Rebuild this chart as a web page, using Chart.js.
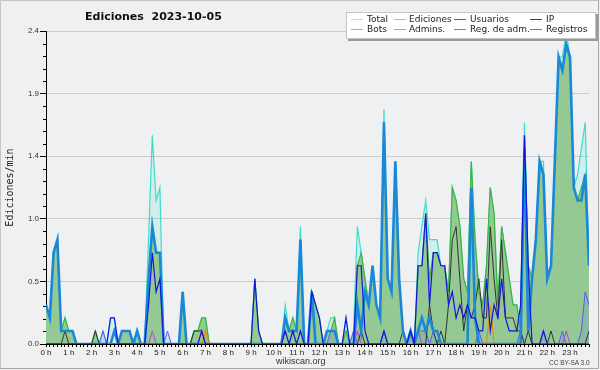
<!DOCTYPE html>
<html><head><meta charset="utf-8">
<script src="https://cdn.jsdelivr.net/npm/chart.js@4.4.1/dist/chart.umd.min.js"></script>
<style>
html,body{margin:0;padding:0;background:#f0f0f0;}
#wrap{position:relative;width:600px;height:370px;overflow:hidden;}
canvas{position:absolute;left:0;top:0;}
.t{position:absolute;white-space:nowrap;color:#111;}
#title{left:85px;top:9px;font:bold 11px 'DejaVu Sans';line-height:16px;}
#legend{position:absolute;left:346px;top:12px;width:248px;height:25px;background:#fff;border:1px solid #c4c4c4;box-shadow:2px 2px 0 #9a9a9a;}
.li{position:absolute;font:9px 'DejaVu Sans';line-height:11px;color:#222;white-space:nowrap;}
.sw{position:absolute;height:1px;width:12px;}
#site{left:276px;top:355px;font:9px 'Liberation Sans';line-height:12px;color:#333;}
#cc{left:549px;top:358px;font:6.5px 'Liberation Sans';line-height:9px;color:#444;}
</style>
</head><body>
<div id="wrap">
<canvas id="c" width="600" height="370"></canvas>
<div class="t" id="title">Ediciones&nbsp;&nbsp;2023-10-05</div>
<div id="legend"></div>
<div class="t" id="site">wikiscan.org</div>
<div class="t" id="cc">CC BY-SA 3.0</div>
</div>
<script>
// ---- data (10-minute steps, edits per minute) ----
const hourLabels = ['0 h','1 h','2 h','3 h','4 h','5 h','6 h','7 h','8 h','9 h','10 h','11 h','12 h','13 h','14 h','15 h','16 h','17 h','18 h','19 h','20 h','21 h','22 h','23 h'];
const yTickValues = [0, 0.48, 0.96, 1.44, 1.92, 2.4];
const yTickLabels = ['0.0','0.5','1.0','1.4','1.9','2.4'];
const seriesNames = ['Total','Ediciones','Usuarios','IP','Bots','Admins.','Reg. de adm.','Registros'];

const total = [
0.3,0.2,0.7,0.8,0.1,0.2, 0.1,0.1,0,0,0,0, 0,0.1,0,0.1,0,0.2, 0.2,0,0.1,0.1,0.1,0,
0.1,0,0,0.8,1.6,1.1, 1.2,0,0,0,0,0, 0.4,0,0,0.1,0.1,0.2, 0.2,0,0,0,0,0,
0,0,0,0,0,0, 0,0.5,0.1,0,0,0, 0,0,0,0.3,0.1,0.2, 0.1,0.9,0,0,0.4,0.3,
0.2,0,0.1,0.2,0.2,0, 0,0.2,0,0.1,0.9,0.7, 0.5,0.3,0.6,0.3,0.2,1.8, 0.5,0.4,1.4,0.5,0.1,0,
0.1,0,0.7,0.9,1.1,0.8, 0.8,0.8,0.6,0.6,0.4,1.2, 1.1,0.9,0.5,0.4,1.4,0.8, 0.4,0.3,0.6,1.2,1.0,0.3,
0.9,0.7,0.5,0.3,0.3,0.1, 1.7,0.6,0.5,0.8,1.4,1.4, 0.5,0.6,1.4,2.2,2.2,2.4, 2.2,1.2,1.3,1.5,1.7,0.6];
const ediciones = [
0.3,0.2,0.7,0.8,0.1,0.2, 0.1,0.1,0,0,0,0, 0,0.1,0,0,0,0, 0,0,0.1,0.1,0.1,0,
0.1,0,0,0.5,0.9,0.7, 0.7,0,0,0,0,0, 0.4,0,0,0.1,0.1,0.2, 0.2,0,0,0,0,0,
0,0,0,0,0,0, 0,0.5,0.1,0,0,0, 0,0,0,0.2,0.1,0.2, 0.1,0.8,0,0,0.4,0.3,
0.2,0,0.1,0.1,0.2,0, 0,0.1,0,0,0.6,0.7, 0.5,0.3,0.6,0.3,0.2,1.7, 0.5,0.4,1.4,0.5,0.1,0,
0.1,0,0.6,0.6,1.0,0.5, 0.7,0.7,0.6,0.6,0.4,1.2, 1.1,0.9,0.5,0.4,1.4,0.8, 0.4,0.3,0.6,1.2,1.0,0.3,
0.9,0.7,0.5,0.3,0.3,0.1, 1.6,0.6,0.5,0.8,1.4,1.3, 0.5,0.6,1.4,2.2,2.1,2.3, 2.2,1.2,1.1,1.2,1.3,0.6];
const usuarios = [
0,0,0,0,0,0, 0,0,0,0,0,0, 0,0,0,0,0,0.2, 0.2,0,0,0,0,0,
0,0,0,0.3,0.7,0.4, 0.5,0,0,0,0,0, 0,0,0,0,0,0.1, 0,0,0,0,0,0,
0,0,0,0,0,0, 0,0.5,0.1,0,0,0, 0,0,0,0.1,0,0.1, 0,0.1,0,0,0.4,0.3,
0.2,0,0,0,0,0, 0,0.2,0,0,0.6,0.6, 0.1,0,0,0,0,0.1, 0,0,0,0,0,0,
0.1,0,0.6,0.6,1.0,0.3, 0.7,0.7,0.6,0.6,0.3,0.4, 0.2,0.3,0.2,0.3,0.2,0.2, 0.1,0.1,0.5,0.1,0.3,0.2,
0.5,0.2,0.1,0.1,0.1,0.3, 1.6,0.6,0,0,0,0.1, 0,0,0,0,0,0, 0,0,0,0,0,0];
const ip = [
0,0,0,0,0,0.1, 0,0,0,0,0,0, 0,0.1,0,0,0,0, 0,0,0,0,0,0,
0,0,0,0,0,0, 0,0,0,0,0,0, 0,0,0,0.1,0.1,0.1, 0,0,0,0,0,0,
0,0,0,0,0,0, 0,0,0,0,0,0, 0,0,0,0,0,0, 0,0,0,0,0,0,
0,0,0,0,0,0, 0,0,0,0,0,0.1, 0,0,0,0,0,0, 0,0,0,0,0.1,0,
0.1,0,0,0,0,0.3, 0.1,0,0.1,0,0.3,0.8, 0.9,0.5,0.1,0.3,0.2,0.3, 0.5,0.2,0.2,0.9,0.5,0.2,
0.8,0.2,0.2,0.2,0.1,0.1, 0,0.1,0,0,0,0, 0,0.1,0,0,0,0, 0,0,0,0,0,0.1];
const bots = [
0,0,0,0,0,0, 0,0,0,0,0,0, 0,0,0,0,0,0, 0,0,0,0,0,0,
0,0,0,0,0,0, 0,0,0,0,0,0, 0,0,0,0,0,0, 0.1,0,0,0,0,0,
0,0,0,0,0,0, 0,0,0,0,0,0, 0,0,0,0,0,0, 0,0,0,0,0,0,
0,0,0,0,0,0, 0,0,0,0,0,0, 0,0,0,0,0,0, 0,0,0,0,0,0,
0,0,0,0,0,0, 0,0,0,0,0,0, 0,0,0,0,0,0, 0,0,0,0.3,0,0,
0,0,0,0,0,0, 0,0,0,0,0,0, 0,0,0,0,0,0, 0,0,0,0,0,0];
const admins = [
0.3,0.2,0.7,0.8,0.1,0.1, 0.1,0.1,0,0,0,0, 0,0,0,0,0,0, 0.1,0,0.1,0.1,0.1,0,
0.1,0,0,0.5,0.9,0.7, 0.7,0,0,0,0,0, 0.4,0,0,0,0,0, 0,0,0,0,0,0,
0,0,0,0,0,0, 0,0,0,0,0,0, 0,0,0,0.2,0.1,0.1, 0.1,0.8,0,0,0.4,0,
0,0,0.1,0.1,0.1,0, 0,0,0,0,0.3,0.1, 0.4,0.3,0.6,0.3,0.2,1.7, 0.5,0.4,1.4,0.5,0.1,0,
0.1,0,0.1,0.2,0.1,0.2, 0.1,0.1,0,0,0,0, 0,0,0,0,1.2,0.2, 0,0,0,0,0,0,
0,0,0,0,0,0, 1.5,0.1,0.5,0.8,1.4,1.3, 0.5,0.6,1.4,2.2,2.1,2.3, 2.2,1.2,1.1,1.1,1.3,0.6];
const regAdm = [
0,0,0,0,0,0, 0,0,0,0,0,0, 0,0,0,0,0,0, 0,0,0,0,0,0,
0,0,0,0,0.1,0, 0,0,0,0,0,0, 0,0,0,0,0,0, 0,0,0,0,0,0,
0,0,0,0,0,0, 0,0,0,0,0,0, 0,0,0,0,0,0, 0,0,0,0,0,0,
0,0,0,0,0,0, 0,0,0,0,0.1,0, 0,0,0,0,0,0, 0,0,0,0,0,0,
0,0,0.1,0,0,0, 0,0,0,0,0,0, 0,0,0,0,0,0, 0,0,0,0,0,0,
0,0,0,0,0,0, 0,0,0,0,0,0, 0,0,0,0,0,0.1, 0,0,0,0,0,0];
const registros = [
0,0,0,0,0,0, 0,0,0,0,0,0, 0,0,0,0.1,0,0, 0,0,0,0,0,0,
0,0,0,0,0,0, 0,0,0.1,0,0,0, 0,0,0,0,0,0, 0,0,0,0,0,0,
0,0,0,0,0,0, 0,0,0,0,0,0, 0,0,0,0,0,0, 0,0,0,0,0,0,
0,0,0,0.1,0.1,0, 0,0,0,0.1,0,0, 0,0,0,0,0,0.1, 0,0,0,0,0,0,
0.1,0,0.1,0.1,0.1,0, 0.1,0,0,0,0,0, 0,0,0,0,0,0, 0.1,0,0,0,0,0,
0,0,0,0,0,0.1, 0,0,0,0,0,0.1, 0,0,0,0,0.1,0, 0,0,0,0.1,0.4,0.3];

// ---- styles ----
const lineColors = ['#3fdccc','#3cb43c','#1414dc','#333333','#f08c00','#1a88d8','#b040e0','#5a5af0'];
const swatchColors = ['#a6e6e6','#8fd88f','#5050d8','#444444','#f0a040','#4cc6e0','#c850d8','#7070e8'];

const allSeries = [total, ediciones, usuarios, ip, bots, admins, regAdm, registros];
const widths = [1.2, 1.2, 1.2, 1, 1.2, 2.6, 1, 1];
const fills = ['rgba(64,224,208,0.16)', '#94c994', false, false, false, false, false, 'rgba(90,90,240,0.14)'];
const orders = [10, 9, 2, 4, 5, 3, 6, 7];

const datasets = allSeries.map((arr, k) => ({
  label: seriesNames[k],
  data: arr.map((v, i) => ({x: i, y: v})),
  borderColor: lineColors[k],
  borderWidth: widths[k],
  backgroundColor: fills[k] || 'transparent',
  fill: fills[k] ? 'origin' : false,
  pointRadius: 0,
  tension: 0,
  order: orders[k]
}));

// legend (HTML)
const legend = document.getElementById('legend');
const colX = [4, 47, 107, 183];
const textX = [20, 62, 123, 199];
seriesNames.forEach((n, k) => {
  const row = k < 4 ? 0 : 1, col = k % 4;
  const sw = document.createElement('div');
  sw.className = 'sw';
  sw.style.left = colX[col] + 'px';
  sw.style.top = (6 + row * 10) + 'px';
  sw.style.background = swatchColors[k];
  legend.appendChild(sw);
  const t = document.createElement('div');
  t.className = 'li';
  t.textContent = n;
  t.style.left = textX[col] + 'px';
  t.style.top = (1 + row * 10) + 'px';
  legend.appendChild(t);
});

const bgPlugin = {
  id: 'bg',
  beforeDraw(chart) {
    const {ctx, chartArea: a} = chart;
    ctx.save();
    ctx.fillStyle = '#f0f0f0';
    ctx.fillRect(0, 0, 600, 370);
    ctx.fillStyle = '#eef0f2';
    ctx.fillRect(a.left, a.top, a.right - a.left, a.bottom - a.top);
    ctx.strokeStyle = '#c4c4c4';
    ctx.lineWidth = 1;
    ctx.beginPath();
    ctx.moveTo(0.5, 369); ctx.lineTo(0.5, 0.5); ctx.lineTo(599, 0.5);
    ctx.stroke();
    ctx.strokeStyle = '#a8a8a8';
    ctx.beginPath();
    ctx.moveTo(598.5, 0); ctx.lineTo(598.5, 368.5); ctx.lineTo(0, 368.5);
    ctx.stroke();
    ctx.restore();
  },
  afterDraw(chart) {
    const {ctx} = chart;
    const y = chart.scales.y;
    ctx.save();
    ctx.strokeStyle = '#000';
    ctx.lineWidth = 1;
    ctx.beginPath();
    for (let k = 1; k < 25; k++) {
      if (k % 5 === 0) continue;
      const py = Math.round(y.getPixelForValue(k * 0.096)) + 0.5;
      ctx.moveTo(y.right - 3, py); ctx.lineTo(y.right, py);
    }
    ctx.stroke();
    ctx.restore();
  }
};

new Chart(document.getElementById('c'), {
  type: 'line',
  data: {datasets},
  options: {
    responsive: false,
    devicePixelRatio: 1,
    animation: false,
    layout: {padding: {top: 31, right: 11, left: 0, bottom: 0}},
    plugins: {legend: {display: false}, tooltip: {enabled: false}, title: {display: false}},
    scales: {
      x: {
        type: 'linear', min: 0, max: 143,
        afterBuildTicks(s) { s.ticks = hourLabels.flatMap((h, j) => [0,1,2,3,4,5].map(m => ({value: j * 6 + m}))); },
        afterFit(s) { s.height = 26; },
        ticks: {autoSkip: false, maxRotation: 0, padding: 1, color: '#222',
          font: {family: 'Liberation Sans', size: 8},
          callback: v => (v % 6 === 0 ? hourLabels[v / 6] : '')},
        grid: {drawOnChartArea: false, tickLength: 3, tickColor: '#000'},
        border: {color: '#000', width: 1}
      },
      y: {
        min: 0, max: 2.4,
        afterBuildTicks(s) { s.ticks = yTickValues.map(v => ({value: v})); },
        afterFit(s) { s.width = 46; },
        ticks: {padding: 1, color: '#333', font: {family: 'Liberation Sans', size: 8},
          callback: (v, i) => yTickLabels[i]},
        grid: {color: c => (c.index === 0 ? 'rgba(0,0,0,0)' : '#cbcbcb'), tickLength: 6, tickColor: '#000'},
        border: {color: '#000', width: 1},
        title: {display: true, text: 'Ediciones/min', color: '#222',
          font: {family: 'DejaVu Sans Mono', size: 10}, padding: {top: 4, bottom: 0}}
      }
    }
  },
  plugins: [bgPlugin]
});
</script>
</body></html>
